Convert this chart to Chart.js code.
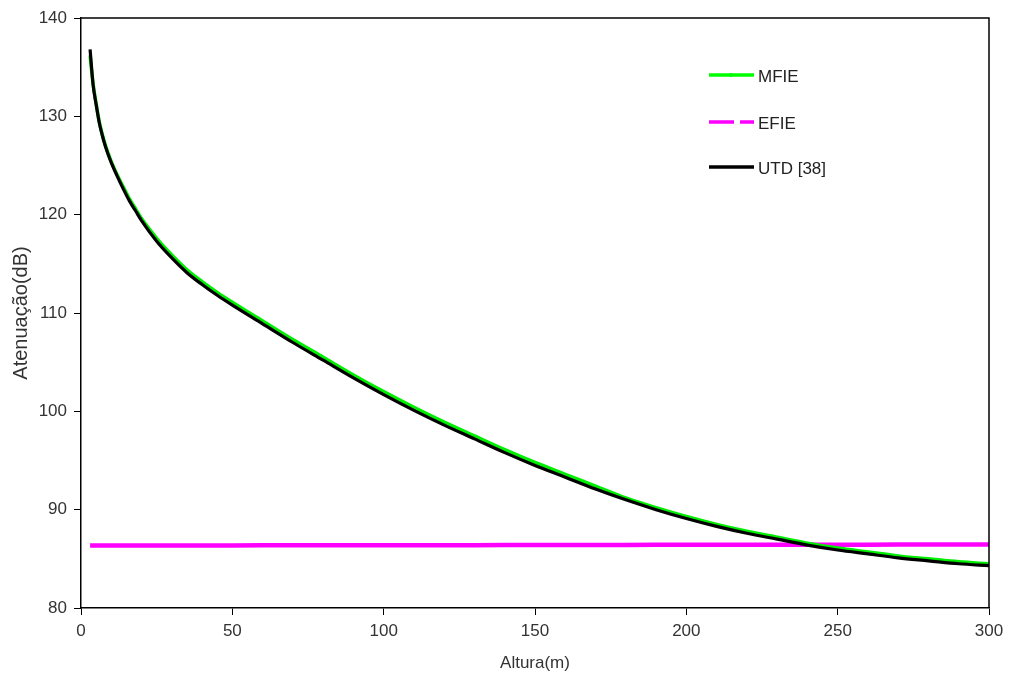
<!DOCTYPE html>
<html>
<head>
<meta charset="utf-8">
<script src="https://cdn.jsdelivr.net/npm/chart.js@4.4.1/dist/chart.umd.min.js"></script>
<style>
html,body{margin:0;padding:0;background:#fff;}
#wrap{width:1010px;height:677px;}
</style>
</head>
<body>
<div id="wrap"><canvas id="c" width="1010" height="677"></canvas></div>
<script>
const heights = [3,4,5,6,7,8,9,10,12,14,16,18,20,25,30,35,40,45,50,60,70,80,90,100,110,120,130,140,150,160,170,180,190,200,210,220,230,240,250,260,270,280,290,300];
const utd  = [136.8,133.2,131.2,129.4,128.1,127.0,126.1,125.3,123.9,122.6,121.4,120.4,119.4,117.3,115.6,114.1,112.9,111.8,110.8,108.9,107.0,105.2,103.4,101.7,100.1,98.6,97.2,95.8,94.5,93.3,92.1,91.0,90.0,89.1,88.3,87.6,87.0,86.4,85.9,85.5,85.1,84.8,84.5,84.3];
const mfie = [136.2,133.3,131.3,129.5,128.2,127.1,126.2,125.4,124.0,122.8,121.6,120.6,119.6,117.6,115.9,114.4,113.2,112.1,111.1,109.2,107.3,105.5,103.7,102.0,100.4,98.9,97.5,96.1,94.8,93.6,92.4,91.2,90.2,89.3,88.5,87.8,87.2,86.6,86.1,85.7,85.3,85.0,84.7,84.5];
const efie = [86.35,86.35,86.35,86.35,86.35,86.35,86.35,86.35,86.35,86.35,86.35,86.35,86.35,86.35,86.36,86.36,86.36,86.36,86.36,86.37,86.37,86.37,86.38,86.38,86.38,86.39,86.39,86.40,86.40,86.40,86.41,86.41,86.42,86.42,86.43,86.43,86.43,86.44,86.44,86.44,86.45,86.45,86.45,86.45];
const xTicks = [0,50,100,150,200,250,300];
const yTicks = [80,90,100,110,120,130,140];
const seriesNames = ['MFIE','EFIE','UTD [38]'];

const pts = arr => heights.map((h,i)=>({x:h,y:arr[i]}));
const FONT = "'Liberation Sans', Arial, sans-serif";

const framePlugin = {
  id:'frame',
  afterDatasetsDraw(chart){
    const {ctx, chartArea:a} = chart;
    ctx.save();
    ctx.strokeStyle = '#000';
    ctx.lineWidth = 1.5;
    ctx.beginPath();
    ctx.moveTo(a.left, a.top); ctx.lineTo(a.right, a.top); ctx.lineTo(a.right, a.bottom);
    ctx.stroke();
    const items = [
      {name:seriesNames[0], color:'#00ff00', y:75, dash:[], marker:true},
      {name:seriesNames[1], color:'#ff00ff', y:122, dash:[25,6], marker:false},
      {name:seriesNames[2], color:'#000000', y:167, dash:[], marker:false}
    ];
    ctx.font = "17px " + FONT;
    ctx.textBaseline = 'middle';
    ctx.textAlign = 'left';
    items.forEach(it=>{
      ctx.strokeStyle = it.color;
      ctx.lineWidth = 3.5;
      ctx.setLineDash(it.dash);
      ctx.beginPath();
      ctx.moveTo(709, it.y); ctx.lineTo(754, it.y);
      ctx.stroke();
      ctx.setLineDash([]);
      if (it.marker){
        ctx.fillStyle = it.color;
        ctx.beginPath(); ctx.arc(731, it.y, 2, 0, Math.PI*2); ctx.fill();
      }
      ctx.fillStyle = '#222';
      ctx.fillText(it.name, 758, it.y + 2);
    });
    ctx.restore();
  }
};

new Chart(document.getElementById('c'), {
  type:'line',
  data:{
    datasets:[
      {label:seriesNames[1], data:pts(efie), borderColor:'#ff00ff', backgroundColor:'#ff00ff', borderWidth:4.5, pointRadius:0, tension:0, order:3},
      {label:seriesNames[0], data:pts(mfie), borderColor:'#00ee00', backgroundColor:'#00ee00', borderWidth:3.5, pointRadius:0, cubicInterpolationMode:'monotone', order:2},
      {label:seriesNames[2], data:pts(utd), borderColor:'#000000', backgroundColor:'#000000', borderWidth:3.2, pointRadius:0, cubicInterpolationMode:'monotone', order:1}
    ]
  },
  options:{
    responsive:false,
    animation:false,
    layout:{padding:{top:18, right:21, left:0, bottom:0}},
    plugins:{legend:{display:false}, tooltip:{enabled:false}},
    scales:{
      x:{
        type:'linear', min:0, max:300,
        afterBuildTicks(s){ s.ticks = xTicks.map(v=>({value:v})); },
        afterFit(s){ s.height = 69; },
        grid:{display:true, drawOnChartArea:false, drawTicks:true, tickLength:7, color:'#000', lineWidth:1},
        border:{display:true, color:'#000', width:1.5},
        ticks:{color:'#333', font:{family:FONT, size:17}, padding:6, maxRotation:0},
        title:{display:true, text:'Altura(m)', color:'#333', font:{family:FONT, size:17}, padding:{top:0,bottom:3}}
      },
      y:{
        type:'linear', min:80, max:140,
        afterBuildTicks(s){ s.ticks = yTicks.map(v=>({value:v})); },
        afterFit(s){ s.width = 81; },
        grid:{display:true, drawOnChartArea:false, drawTicks:true, tickLength:7, color:'#000', lineWidth:1},
        border:{display:true, color:'#000', width:1.5},
        ticks:{color:'#333', font:{family:FONT, size:17}, padding:7},
        title:{display:true, text:'Atenuação(dB)', color:'#333', font:{family:FONT, size:20}, padding:{top:9,bottom:0}}
      }
    }
  },
  plugins:[framePlugin]
});
</script>
</body>
</html>
